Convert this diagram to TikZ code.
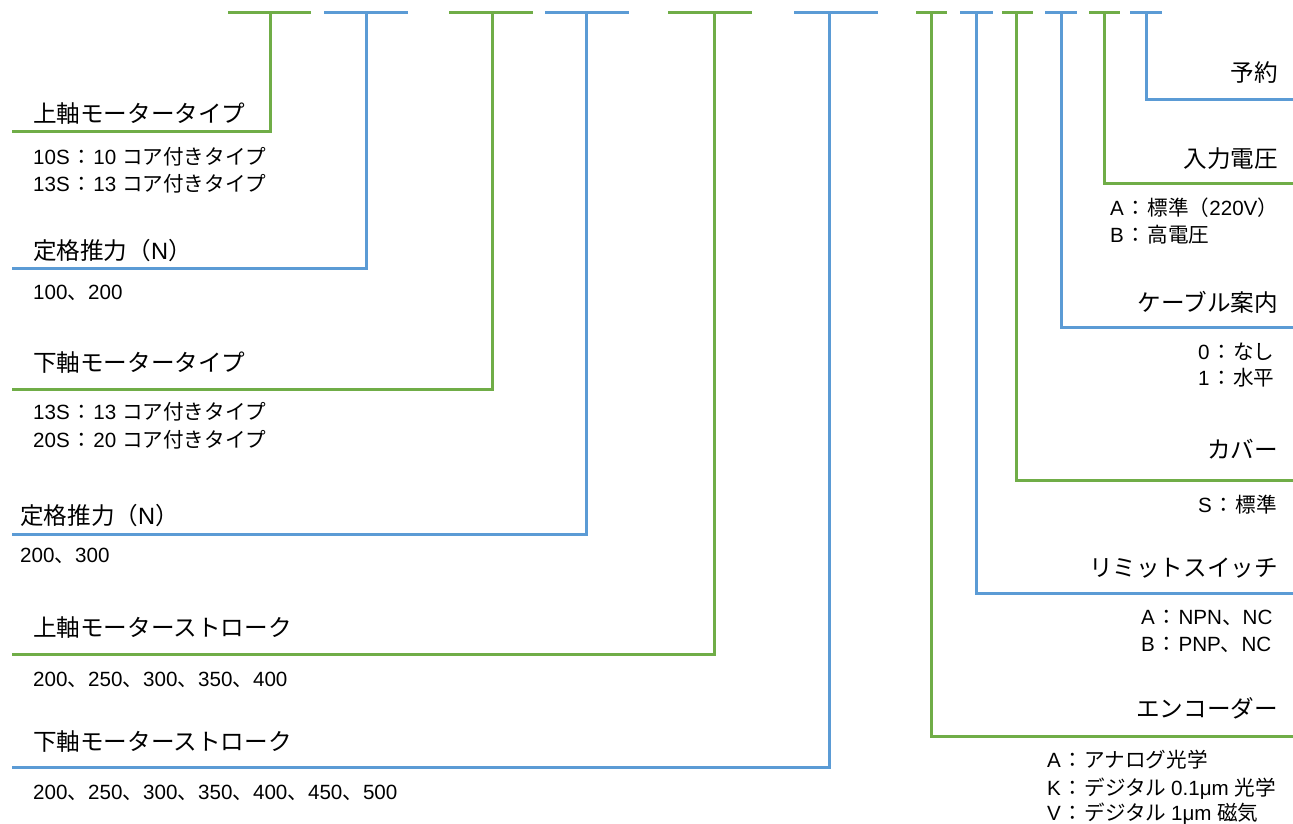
\documentclass[tikz,border=0pt]{standalone}
\usepackage{fontspec}
\setmainfont{Noto Sans CJK JP}
\newfontfamily\latf{Liberation Sans}
\newcommand{\cln}{\hspace{1.5pt}：\hspace{1.5pt}}
\definecolor{lgreen}{HTML}{70AD47}
\definecolor{lblue}{HTML}{5B9BD5}
\begin{document}
\begin{tikzpicture}[x=1pt,y=-1pt,
  gline/.style={draw=lgreen,line width=3pt},
  bline/.style={draw=lblue,line width=3pt},
  head/.style={inner sep=0pt,font=\fontsize{23.6}{28}\selectfont},
  sub/.style={inner sep=0pt,font=\fontsize{20.6}{27}\selectfont},
  hl/.style={head,anchor=base west},
  hr/.style={head,anchor=base east},
  sl/.style={sub,anchor=base west},
]
\useasboundingbox (0,0) rectangle (1293,823);
\fill[white] (0,0) rectangle (1293,823);

% top bar coordinates
\coordinate (t1a) at (228,12);  \coordinate (t1b) at (311,12);  \coordinate (t1m) at (270,12);
\coordinate (t2a) at (324,12);  \coordinate (t2b) at (408,12);  \coordinate (t2m) at (366,12);
\coordinate (t3a) at (449,12);  \coordinate (t3b) at (533,12);  \coordinate (t3m) at (492,12);
\coordinate (t4a) at (545,12);  \coordinate (t4b) at (629,12);  \coordinate (t4m) at (586,12);
\coordinate (t5a) at (668,12);  \coordinate (t5b) at (752,12);  \coordinate (t5m) at (714,12);
\coordinate (t6a) at (794,12);  \coordinate (t6b) at (878,12);  \coordinate (t6m) at (829,12);
\coordinate (t7a) at (916,12);  \coordinate (t7b) at (947,12);  \coordinate (t7m) at (931,12);
\coordinate (t8a) at (960,12);  \coordinate (t8b) at (993,12);  \coordinate (t8m) at (976,12);
\coordinate (t9a) at (1002,12); \coordinate (t9b) at (1033,12); \coordinate (t9m) at (1016,12);
\coordinate (t10a) at (1045,12); \coordinate (t10b) at (1077,12); \coordinate (t10m) at (1061,12);
\coordinate (t11a) at (1089,12); \coordinate (t11b) at (1120,12); \coordinate (t11m) at (1104,12);
\coordinate (t12a) at (1130,12); \coordinate (t12b) at (1162,12); \coordinate (t12m) at (1146,12);

% free ends of the leader lines
\coordinate (e1) at (12,131);
\coordinate (e2) at (12,268);
\coordinate (e3) at (12,389);
\coordinate (e4) at (12,534);
\coordinate (e5) at (12,654);
\coordinate (e6) at (12,767);
\coordinate (e7) at (1293,736);
\coordinate (e8) at (1293,593);
\coordinate (e9) at (1293,480);
\coordinate (e10) at (1293,327);
\coordinate (e11) at (1293,183);
\coordinate (e12) at (1293,99);

% bars and leaders
\draw[gline] (t1a) -- (t1b);  \draw[gline] (t1m) |- (e1);
\draw[bline] (t2a) -- (t2b);  \draw[bline] (t2m) |- (e2);
\draw[gline] (t3a) -- (t3b);  \draw[gline] (t3m) |- (e3);
\draw[bline] (t4a) -- (t4b);  \draw[bline] (t4m) |- (e4);
\draw[gline] (t5a) -- (t5b);  \draw[gline] (t5m) |- (e5);
\draw[bline] (t6a) -- (t6b);  \draw[bline] (t6m) |- (e6);
\draw[gline] (t7a) -- (t7b);  \draw[gline] (t7m) |- (e7);
\draw[bline] (t8a) -- (t8b);  \draw[bline] (t8m) |- (e8);
\draw[gline] (t9a) -- (t9b);  \draw[gline] (t9m) |- (e9);
\draw[bline] (t10a) -- (t10b); \draw[bline] (t10m) |- (e10);
\draw[gline] (t11a) -- (t11b); \draw[gline] (t11m) |- (e11);
\draw[bline] (t12a) -- (t12b); \draw[bline] (t12m) |- (e12);

% left side texts
\node[hl] (h1) at (33,122) {上軸モータータイプ};
\node[sl] (s1a) at (33,164.5) {{\latf 10S}\cln{\latf 10 }コア付きタイプ};
\node[sl] (s1b) at (33,191.5) {{\latf 13S}\cln{\latf 13 }コア付きタイプ};
\node[hl] (h2) at (33,259) {定格推力（{\latf N}）};
\node[sl] (s2a) at (33,299.5) {{\latf 100}、{\latf 200}};
\node[hl] (h3) at (33,371) {下軸モータータイプ};
\node[sl] (s3a) at (33,419.5) {{\latf 13S}\cln{\latf 13 }コア付きタイプ};
\node[sl] (s3b) at (33,447.5) {{\latf 20S}\cln{\latf 20 }コア付きタイプ};
\node[hl] (h4) at (20,524) {定格推力（{\latf N}）};
\node[sl] (s4a) at (20,562.5) {{\latf 200}、{\latf 300}};
\node[hl] (h5) at (33,636) {上軸モーターストローク};
\node[sl] (s5a) at (33,686.5) {{\latf 200}、{\latf 250}、{\latf 300}、{\latf 350}、{\latf 400}};
\node[hl] (h6) at (33,750) {下軸モーターストローク};
\node[sl] (s6a) at (33,799.5) {{\latf 200}、{\latf 250}、{\latf 300}、{\latf 350}、{\latf 400}、{\latf 450}、{\latf 500}};

% right side texts
\node[hr] (h12) at (1278,81) {予約};
\node[hr] (h11) at (1278,167) {入力電圧};
\node[sl] (s11a) at (1110,215.5) {{\latf A}\cln 標準（{\latf 220V}）};
\node[sl] (s11b) at (1110,242.5) {{\latf B}\cln 高電圧};
\node[hr] (h10) at (1278,311) {ケーブル案内};
\node[sl] (s10a) at (1198,359.5) {{\latf 0}\cln なし};
\node[sl] (s10b) at (1198,385.5) {{\latf 1}\cln 水平};
\node[hr] (h9) at (1278,458) {カバー};
\node[sl] (s9a) at (1198,512.5) {{\latf S}\cln 標準};
\node[hr] (h8) at (1278,576) {リミットスイッチ};
\node[sl] (s8a) at (1141,624.5) {{\latf A}\cln{\latf NPN}、{\latf NC}};
\node[sl] (s8b) at (1141,651.5) {{\latf B}\cln{\latf PNP}、{\latf NC}};
\node[hr] (h7) at (1278,717) {エンコーダー};
\node[sl] (s7a) at (1047,767.5) {{\latf A}\cln アナログ光学};
\node[sl] (s7b) at (1047,795.5) {{\latf K}\cln デジタル {\latf 0.1μm }光学};
\node[sl] (s7c) at (1047,820.5) {{\latf V}\cln デジタル {\latf 1μm }磁気};
\end{tikzpicture}
\end{document}
